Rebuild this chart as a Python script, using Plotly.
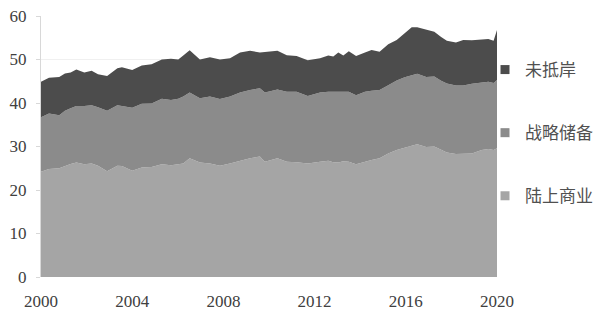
import plotly.graph_objects as go

years = [2000.0, 2000.35, 2000.8, 2001.05, 2001.3, 2001.55, 2001.9, 2002.22, 2002.5, 2002.9,
         2003.35, 2003.55, 2004.0, 2004.42, 2004.85, 2005.3, 2005.7, 2006.02, 2006.24, 2006.52,
         2006.97, 2007.41, 2007.85, 2008.29, 2008.73, 2009.17, 2009.6, 2009.82, 2010.37, 2010.78,
         2011.21, 2011.7, 2012.24, 2012.6, 2012.82, 2013.04, 2013.26, 2013.5, 2013.82, 2014.21,
         2014.5, 2014.85, 2015.23, 2015.6, 2015.95, 2016.26, 2016.5, 2016.9, 2017.25, 2017.55,
         2017.8, 2018.2, 2018.52, 2018.9, 2019.33, 2019.62, 2019.85, 2020.0]

onshore = [24.2, 24.8, 25.0, 25.5, 26.0, 26.3, 25.9, 26.1, 25.6, 24.3,
           25.6, 25.5, 24.4, 25.2, 25.3, 25.9, 25.7, 25.9, 26.1, 27.3,
           26.3, 26.1, 25.6, 26.1, 26.7, 27.3, 27.7, 26.5, 27.3, 26.5,
           26.4, 26.1, 26.5, 26.7, 26.4, 26.3, 26.6, 26.5, 25.9, 26.5,
           26.9, 27.3, 28.4, 29.2, 29.8, 30.2, 30.5, 29.9, 30.0, 29.2,
           28.6, 28.3, 28.3, 28.4, 29.2, 29.4, 29.2, 29.6]

strategic = [12.5, 12.8, 12.2, 12.7, 12.8, 13.0, 13.4, 13.4, 13.4, 13.9,
             13.9, 13.8, 14.5, 14.6, 14.6, 15.1, 15.0, 15.1, 15.4, 15.1,
             14.8, 15.4, 15.3, 15.4, 15.7, 15.7, 15.7, 15.9, 15.8, 16.1,
             16.2, 15.5, 15.9, 15.9, 16.2, 16.3, 16.1, 16.1, 15.9, 16.1,
             15.9, 15.7, 15.7, 16.0, 16.1, 16.2, 16.2, 16.1, 16.1, 15.9,
             15.9, 15.7, 15.7, 16.0, 15.6, 15.5, 15.4, 15.7]

in_transit = [8.2, 8.2, 8.8, 8.6, 8.2, 8.4, 7.7, 7.9, 7.6, 8.0,
              8.5, 8.9, 8.7, 8.8, 9.0, 9.0, 9.5, 9.0, 9.4, 9.7,
              8.9, 9.0, 9.1, 8.8, 9.2, 9.0, 8.2, 9.3, 8.9, 8.4,
              8.2, 8.2, 7.9, 8.3, 8.1, 9.0, 8.2, 9.3, 9.0, 9.0,
              9.4, 8.8, 9.4, 9.3, 10.2, 11.0, 10.7, 10.8, 10.3, 10.1,
              9.8, 9.9, 10.5, 10.0, 9.8, 9.8, 9.7, 11.5]

series_names = ["陆上商业", "战略储备", "未抵岸"]
x_ticks = [2000, 2004, 2008, 2012, 2016, 2020]
y_ticks = [0, 10, 20, 30, 40, 50, 60]

colors = ["#a5a5a5", "#8b8b8b", "#4c4c4c"]
data = [onshore, strategic, in_transit]
ranks = [3, 2, 1]

fig = go.Figure()
for name, vals, col in zip(series_names, data, colors):
    fig.add_trace(go.Scatter(
        x=years, y=vals, name=name, mode="lines",
        stackgroup="one", line=dict(width=0, color=col),
        fillcolor=col, showlegend=False,
    ))
# legend entries (square markers)
for name, col, rk in zip(series_names, colors, ranks):
    fig.add_trace(go.Scatter(
        x=[None], y=[None], name=name, mode="markers",
        marker=dict(symbol="square", size=9, color=col),
        legendgroup=name, legendrank=rk, showlegend=True,
    ))

serif = "Liberation Serif, Times New Roman, serif"
fig.update_layout(
    width=600, height=316,
    margin=dict(l=41, r=103, t=16, b=39, autoexpand=False),
    paper_bgcolor="white", plot_bgcolor="white",
    font=dict(family=serif, color="#404040", size=17),
    showlegend=True,
    legend=dict(
        x=0.9737, xanchor="left", y=0.862, yanchor="top",
        traceorder="grouped", tracegroupgap=38,
        font=dict(size=17, family="Noto Sans CJK SC", color="#505050"),
        itemwidth=30, bgcolor="rgba(0,0,0,0)",
    ),
    xaxis=dict(
        range=[2000, 2020], tickvals=x_ticks, ticktext=[str(t) for t in x_ticks],
        showgrid=False, zeroline=False, showline=False,
        ticks="", ticklabelstandoff=12, automargin=False,
        tickfont=dict(size=17, family=serif),
    ),
    yaxis=dict(
        range=[0, 60], tickvals=y_ticks, showgrid=True, gridcolor="#f0f0f0",
        zeroline=False, showline=True, linecolor="#d8d8d8", linewidth=1,
        ticks="outside", ticklen=4, tickcolor="#d8d8d8", ticklabelstandoff=6,
        automargin=False,
        tickfont=dict(size=17, family=serif),
    ),
)

fig.write_html("out.html")
